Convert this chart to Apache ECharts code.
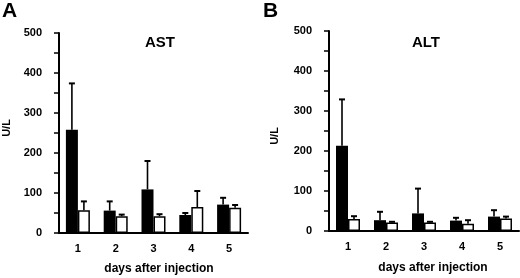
<!DOCTYPE html>
<html>
<head>
<meta charset="utf-8">
<script src="https://cdn.jsdelivr.net/npm/echarts@6/dist/echarts.min.js"></script>
<style>
  html, body { margin: 0; padding: 0; background: #fff; }
  #chart { width: 520px; height: 278px; }
</style>
</head>
<body>
<div id="chart"></div>
<script>
// days after injection
var days = ['1', '2', '3', '4', '5'];
var yTicks = [0, 100, 200, 300, 400, 500];

// AST (U/L): black = treated, white = control; *Top = top of the error bar
var astBlack = [258, 56, 109, 45, 71];
var astBlackTop = [374, 79, 180, 50, 88];
var astWhite = [57, 42, 42, 65, 63];
var astWhiteTop = [79, 46, 47, 105, 70];

// ALT (U/L)
var altBlack = [213, 27, 44, 26, 36];
var altBlackTop = [329, 48, 106, 33, 52];
var altWhite = [30, 21, 21, 18, 31];
var altWhiteTop = [37, 23, 23, 27, 36];

var font = 'Liberation Sans, Arial, Helvetica, sans-serif';
var barW = 12;

function errSeries(idx, means, tops, shift) {
    var data = means.map(function (m, i) { return [i, m, tops[i]]; });
    return {
        type: 'custom',
        xAxisIndex: idx,
        yAxisIndex: idx,
        z: 1,
        data: data,
        renderItem: function (params, api) {
            var lo = api.coord([api.value(0), api.value(1)]);
            var hi = api.coord([api.value(0), api.value(2)]);
            var x = lo[0] + shift;
            var style = { stroke: '#000', lineWidth: 1.6 };
            return {
                type: 'group',
                children: [
                    { type: 'line', shape: { x1: x, y1: lo[1], x2: x, y2: hi[1] }, style: style },
                    { type: 'line', shape: { x1: x - 3, y1: hi[1], x2: x + 3, y2: hi[1] }, style: { stroke: '#000', lineWidth: 2 } }
                ]
            };
        }
    };
}

function xAxis(idx) {
    return {
        type: 'category',
        gridIndex: idx,
        data: days,
        axisLine: { lineStyle: { color: '#000', width: 2 } },
        axisTick: { length: 3, lineStyle: { color: '#000', width: 1.5 } },
        axisLabel: { color: '#000', fontFamily: font, fontWeight: 'bold', fontSize: 11, margin: 10 },
        splitLine: { show: false }
    };
}

function yAxis(idx) {
    return {
        type: 'value',
        gridIndex: idx,
        min: yTicks[0],
        max: yTicks[yTicks.length - 1],
        interval: 100,
        axisLine: { show: true, lineStyle: { color: '#000', width: 2 } },
        axisTick: { show: true, length: 5, lineStyle: { color: '#000', width: 1.5 } },
        minorTick: { show: true, splitNumber: 2, length: 5, lineStyle: { color: '#000', width: 1.5 } },
        axisLabel: { color: '#000', fontFamily: font, fontWeight: 'bold', fontSize: 11, margin: 17 },
        splitLine: { show: false }
    };
}

function barSeries(idx, data, white) {
    return {
        type: 'bar',
        xAxisIndex: idx,
        yAxisIndex: idx,
        barWidth: barW,
        barGap: '0%',
        z: 2,
        data: data,
        itemStyle: white
            ? { color: '#fff', borderColor: '#000', borderWidth: 1.5 }
            : { color: '#000' }
    };
}

var textStyle = { color: '#000', fontFamily: font, fontWeight: 'bold' };

var option = {
    backgroundColor: '#fff',
    animation: false,
    grid: [
        { left: 59, top: 33, width: 189, height: 200 },
        { left: 329, top: 31, width: 190, height: 200 }
    ],
    xAxis: [xAxis(0), xAxis(1)],
    yAxis: [yAxis(0), yAxis(1)],
    series: [
        barSeries(0, astBlack, false),
        barSeries(0, astWhite, true),
        errSeries(0, astBlack, astBlackTop, -barW / 2),
        errSeries(0, astWhite, astWhiteTop, barW / 2),
        barSeries(1, altBlack, false),
        barSeries(1, altWhite, true),
        errSeries(1, altBlack, altBlackTop, -barW / 2),
        errSeries(1, altWhite, altWhiteTop, barW / 2)
    ],
    graphic: [
        { type: 'text', left: 2, top: 1, style: Object.assign({ text: 'A', fontSize: 21 }, textStyle) },
        { type: 'text', left: 263, top: 1, style: Object.assign({ text: 'B', fontSize: 21 }, textStyle) },
        { type: 'text', x: 160, y: 43, style: Object.assign({ text: 'AST', fontSize: 15, align: 'center', verticalAlign: 'middle' }, textStyle) },
        { type: 'text', x: 426, y: 43, style: Object.assign({ text: 'ALT', fontSize: 15, align: 'center', verticalAlign: 'middle' }, textStyle) },
        { type: 'text', x: 7, y: 128, rotation: Math.PI / 2, style: Object.assign({ text: 'U/L', fontSize: 11, align: 'center', verticalAlign: 'middle' }, textStyle) },
        { type: 'text', x: 275, y: 136, rotation: Math.PI / 2, style: Object.assign({ text: 'U/L', fontSize: 11, align: 'center', verticalAlign: 'middle' }, textStyle) },
        { type: 'text', x: 159, y: 269, style: Object.assign({ text: 'days after injection', fontSize: 12, align: 'center', verticalAlign: 'middle' }, textStyle) },
        { type: 'text', x: 433, y: 268, style: Object.assign({ text: 'days after injection', fontSize: 12, align: 'center', verticalAlign: 'middle' }, textStyle) }
    ]
};

var myChart = echarts.init(document.getElementById('chart'));
myChart.setOption(option);
</script>
</body>
</html>
